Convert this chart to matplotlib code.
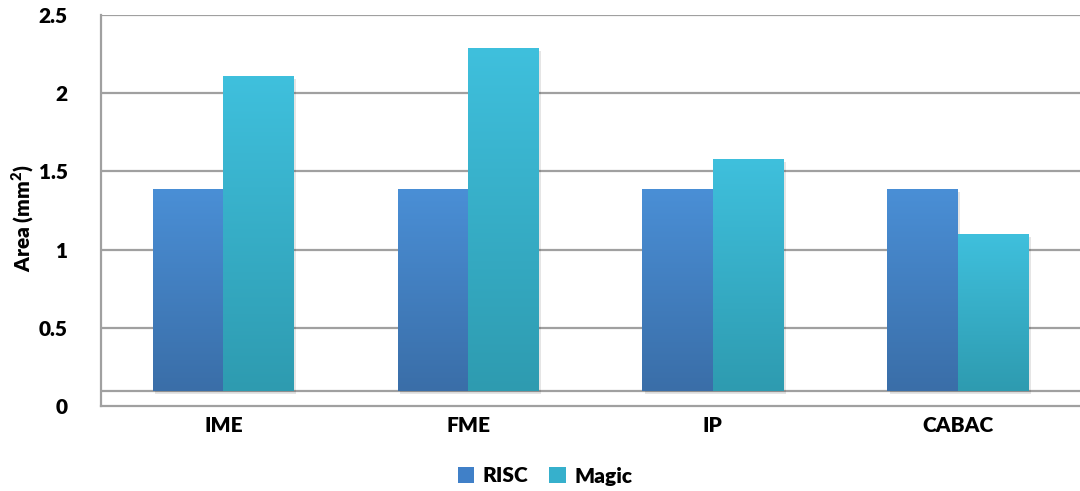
import numpy as np
import matplotlib
matplotlib.use("Agg")
import matplotlib.pyplot as plt
from matplotlib.patches import Rectangle
from matplotlib.colors import LinearSegmentedColormap

# dati
categories = ["IME", "FME", "IP", "CABAC"]
risc = [1.39, 1.39, 1.39, 1.39]
magic = [2.11, 2.29, 1.58, 1.10]
yticks = [0, 0.5, 1, 1.5, 2, 2.5]
ytick_labels = ["0", "0.5", "1", "1.5", "2", "2.5"]

plt.rcParams["font.family"] = ["Lato", "DejaVu Sans"]
plt.rcParams["font.weight"] = "heavy"
plt.rcParams["mathtext.fontset"] = "custom"
plt.rcParams["mathtext.bf"] = "Lato:heavy"

fig = plt.figure(figsize=(10.8, 4.91), dpi=100)
ax = fig.add_axes([101 / 1080, 1 - 406 / 491, 979 / 1080, 391 / 491])

grid_col = "#a0a0a0"
floor = 0.096  # pavimento in stile 3D di Excel
width = 0.288
x = np.arange(len(categories))

cmap_risc = LinearSegmentedColormap.from_list("risc", ["#3a6ea8", "#4a8fd6"])
cmap_magic = LinearSegmentedColormap.from_list("magic", ["#2e9bb0", "#3fc0dd"])
grad = np.linspace(0, 1, 256).reshape(-1, 1)


def gradient_bar(xc, val, cmap):
    left = xc
    # ombra leggera
    sh = Rectangle((left + 0.01, floor - 0.02), width, val - floor, facecolor="#000000",
                   alpha=0.10, edgecolor="none", zorder=2)
    ax.add_patch(sh)
    rect = Rectangle((left, floor), width, val - floor, facecolor="none", edgecolor="none", zorder=3)
    ax.add_patch(rect)
    im = ax.imshow(grad, cmap=cmap, origin="lower", aspect="auto",
                   extent=(left, left + width, floor, val), zorder=3)
    im.set_clip_path(rect)


for i in range(len(categories)):
    gradient_bar(x[i] - width, risc[i], cmap_risc)
    gradient_bar(x[i], magic[i], cmap_magic)

ax.set_xlim(-0.5, 3.5)
ax.set_ylim(0, 2.5)

for v in yticks[1:]:
    ax.axhline(v, color=grid_col, lw=1.6, zorder=1)
ax.axhline(floor, color=grid_col, lw=1.6, zorder=1)

for s in ["top", "right"]:
    ax.spines[s].set_visible(False)
ax.spines["left"].set_color(grid_col)
ax.spines["left"].set_linewidth(1.6)
ax.spines["bottom"].set_color(grid_col)
ax.spines["bottom"].set_linewidth(1.6)

ax.set_yticks(yticks)
ax.set_yticklabels(ytick_labels, fontsize=15, fontweight="heavy")
ax.set_xticks(x)
ax.set_xticklabels(categories, fontsize=15, fontweight="heavy")
ax.tick_params(axis="y", length=0, pad=24)
ax.tick_params(axis="x", length=0, pad=7)

ax.set_ylabel("Area (mm$^\\mathbf{2}$)", fontsize=15, fontweight="heavy", labelpad=1)
ax.yaxis.set_label_coords(-0.066, 0.48)

# legenda
h1 = Rectangle((0, 0), 1, 1, facecolor="#4080c8")
h2 = Rectangle((0, 0), 1, 1, facecolor="#36b0cc")
fig.legend([h1, h2], ["RISC", "Magic"], loc="center", bbox_to_anchor=(545 / 1080, 1 - 476 / 491),
           ncol=2, frameon=False, prop={"size": 15, "weight": "heavy"},
           handlelength=0.8, handleheight=0.8, handletextpad=0.4, columnspacing=1.0)

fig.savefig("out.png", dpi=100)
